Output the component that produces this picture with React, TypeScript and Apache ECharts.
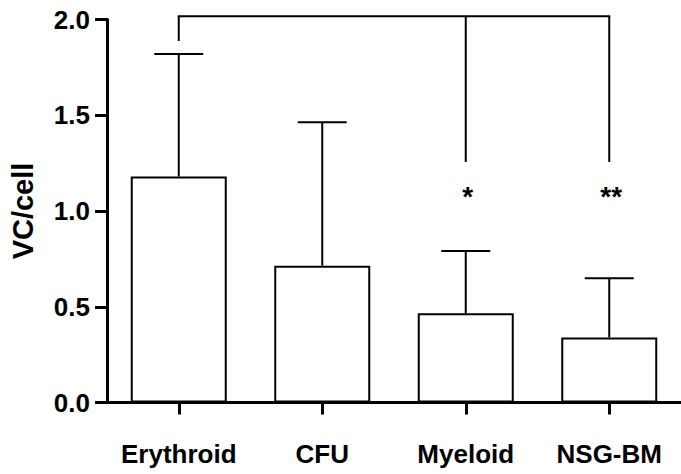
import React, { useEffect, useRef } from "react";
import * as echarts from "echarts";

const categories = ["Erythroid", "CFU", "Myeloid", "NSG-BM"];
const means = [1.18, 0.714, 0.466, 0.34];
const errorTops = [1.82, 1.463, 0.791, 0.649];
const yTicks = [0, 0.5, 1.0, 1.5, 2.0];

// Significance bracket: top level and the drop end for each linked group
const bracketLevel = 2.017;
const bracketDrops: [number, number][] = [
  [0, 1.888],
  [2, 1.256],
  [3, 1.256],
];
const sigGroups = [2, 3];
const sigLabels = ["*", "**"];
const sigLevel = 1.094;

const FONT = "'Liberation Sans', Arial, Helvetica, sans-serif";

export default function App() {
  const ref = useRef<HTMLDivElement>(null);

  useEffect(() => {
    if (!ref.current) return;
    const chart = echarts.init(ref.current, undefined, { renderer: "svg" });

    const option: any = {
      animation: false,
      backgroundColor: "#ffffff",
      grid: { left: 107, top: 19.5, width: 578, height: 383 },
      xAxis: {
        type: "category",
        data: categories,
        axisLine: { show: true, lineStyle: { color: "#000", width: 3 } },
        axisTick: {
          show: true,
          alignWithLabel: true,
          length: 12,
          lineStyle: { color: "#000", width: 3 },
        },
        axisLabel: {
          color: "#000",
          fontFamily: FONT,
          fontWeight: "bold",
          fontSize: 26,
          margin: 38,
          interval: 0,
        },
        splitLine: { show: false },
      },
      yAxis: {
        type: "value",
        min: yTicks[0],
        max: yTicks[yTicks.length - 1],
        interval: 0.5,
        name: "VC/cell",
        nameLocation: "middle",
        nameRotate: 90,
        nameGap: 70,
        nameTextStyle: {
          color: "#000",
          fontFamily: FONT,
          fontWeight: "bold",
          fontSize: 29,
        },
        axisLine: { show: true, lineStyle: { color: "#000", width: 3 } },
        axisTick: { show: true, length: 12, lineStyle: { color: "#000", width: 3 } },
        axisLabel: {
          color: "#000",
          fontFamily: FONT,
          fontWeight: "bold",
          fontSize: 26,
          margin: 17,
          formatter: (v: number) => v.toFixed(1),
        },
        splitLine: { show: false },
      },
      series: [
        {
          type: "bar",
          data: means,
          barWidth: 96,
          itemStyle: { color: "#ffffff", borderColor: "#000", borderWidth: 2 },
          z: 2,
        },
        {
          type: "custom",
          clip: false,
          z: 3,
          data: categories.map((_, i) => [i, means[i], errorTops[i]]),
          renderItem: (params: any, api: any) => {
            const i = api.value(0);
            const base = api.coord([i, api.value(1)]);
            const top = api.coord([i, api.value(2)]);
            const half = 24.5;
            const style = { stroke: "#000", lineWidth: 2, fill: "none" };
            return {
              type: "group",
              children: [
                { type: "line", shape: { x1: base[0], y1: base[1], x2: top[0], y2: top[1] }, style },
                { type: "line", shape: { x1: top[0] - half, y1: top[1], x2: top[0] + half, y2: top[1] }, style },
              ],
            };
          },
        },
        {
          type: "custom",
          clip: false,
          z: 4,
          data: [[0]],
          renderItem: (params: any, api: any) => {
            const children: any[] = [];
            const style = { stroke: "#000", lineWidth: 2, fill: "none" };
            const first = api.coord([bracketDrops[0][0], bracketLevel]);
            const last = api.coord([bracketDrops[bracketDrops.length - 1][0], bracketLevel]);
            children.push({
              type: "line",
              shape: { x1: first[0] - 1, y1: first[1], x2: last[0] + 1, y2: last[1] },
              style,
            });
            bracketDrops.forEach(([idx, end]) => {
              const a = api.coord([idx, bracketLevel]);
              const b = api.coord([idx, end]);
              children.push({ type: "line", shape: { x1: a[0], y1: a[1], x2: b[0], y2: b[1] }, style });
            });
            return { type: "group", children };
          },
        },
        {
          type: "custom",
          clip: false,
          z: 4,
          data: sigGroups.map((g, k) => [g, sigLevel, k]),
          renderItem: (params: any, api: any) => {
            const p = api.coord([api.value(0), api.value(1)]);
            const k = api.value(2);
            const label = sigLabels[k];
            return {
              type: "text",
              x: p[0] + 2,
              y: p[1] + 4,
              style: {
                text: label,
                fill: "#000",
                font: `bold 28px ${FONT}`,
                align: "center",
                verticalAlign: "middle",
              },
            };
          },
        },
      ],
    };

    chart.setOption(option);
    return () => chart.dispose();
  }, []);

  return (
    <div
      ref={ref}
      style={{ position: "fixed", left: 0, top: 0, width: 681, height: 474 }}
    />
  );
}
